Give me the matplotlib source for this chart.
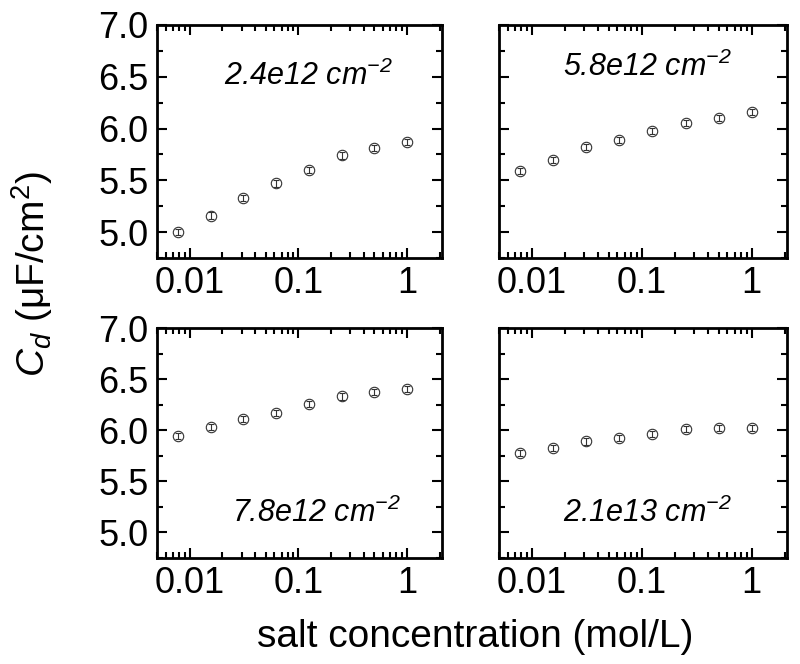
import numpy as np
import matplotlib
matplotlib.use("Agg")
import matplotlib.pyplot as plt
from matplotlib.ticker import FixedLocator, FixedFormatter, LogLocator, MultipleLocator

plt.rcParams['font.family'] = ['Liberation Sans', 'DejaVu Sans']
plt.rcParams['mathtext.fontset'] = 'custom'
plt.rcParams['mathtext.rm'] = 'Liberation Sans'
plt.rcParams['mathtext.it'] = 'Liberation Sans:italic'
plt.rcParams['mathtext.default'] = 'regular'

# salt concentration (mol/L)
conc = [0.0078, 0.0156, 0.03125, 0.0625, 0.125, 0.25, 0.5, 1.0]

# capacitance (uF/cm^2) for each surface charge density
cd_24e12 = [5.00, 5.16, 5.33, 5.47, 5.60, 5.74, 5.81, 5.87]
cd_58e12 = [5.59, 5.70, 5.82, 5.89, 5.98, 6.05, 6.10, 6.16]
cd_78e12 = [5.94, 6.03, 6.11, 6.17, 6.26, 6.33, 6.37, 6.40]
cd_21e13 = [5.78, 5.83, 5.89, 5.92, 5.96, 6.01, 6.02, 6.02]
err = [0.03, 0.03, 0.03, 0.03, 0.03, 0.03, 0.03, 0.03]

labels = ["2.4e12 cm$^{-2}$", "5.8e12 cm$^{-2}$",
          "7.8e12 cm$^{-2}$", "2.1e13 cm$^{-2}$"]
series = [cd_24e12, cd_58e12, cd_78e12, cd_21e13]
label_pos = [(0.53, 0.78), (0.515, 0.82), (0.56, 0.195), (0.517, 0.195)]

yticks = [5.0, 5.5, 6.0, 6.5, 7.0]
yticklabels = ["5.0", "5.5", "6.0", "6.5", "7.0"]
xticks = [0.01, 0.1, 1]
xticklabels = ["0.01", "0.1", "1"]

fig = plt.figure(figsize=(8, 6.64), dpi=100)
W, H = 800, 664
boxes = [(157, 25, 442, 258), (499, 25, 787, 258),
         (157, 328, 442, 558), (499, 328, 787, 558)]

for i, (l, t, r, b) in enumerate(boxes):
    ax = fig.add_axes([l / W, 1 - b / H, (r - l) / W, (b - t) / H])
    ax.errorbar(conc, series[i], yerr=err, fmt='o', ms=7.5, mfc='none',
                mec='#333333', mew=0.8, ecolor='#333333', elinewidth=0.8,
                capsize=2, capthick=0.8)
    ax.set_xscale('log')
    ax.set_xlim(0.005, 2.1)
    ax.set_ylim(4.75, 7.0)
    ax.xaxis.set_major_locator(FixedLocator(xticks))
    ax.xaxis.set_major_formatter(FixedFormatter(xticklabels))
    ax.xaxis.set_minor_locator(LogLocator(base=10, subs=np.arange(2, 10), numticks=20))
    ax.yaxis.set_major_locator(FixedLocator(yticks))
    ax.yaxis.set_minor_locator(MultipleLocator(0.25))
    ax.tick_params(which='both', direction='in', top=True, right=True,
                   labelsize=26, width=1.5, pad=6)
    ax.tick_params(which='major', length=7)
    ax.tick_params(which='minor', length=4)
    for s in ax.spines.values():
        s.set_linewidth(2.0)
    if i % 2 == 0:
        ax.set_yticklabels(yticklabels)
    else:
        ax.set_yticklabels([])
    ax.text(label_pos[i][0], label_pos[i][1], labels[i], transform=ax.transAxes,
            ha='center', va='center', fontsize=22, style='italic')

fig.text(0.04, 0.587, r"$\mathit{C_d}$ ($\mu$F/cm$^{2}$)", rotation=90,
         ha='center', va='center', fontsize=28)
fig.text(475 / W, 0.040, "salt concentration (mol/L)", ha='center',
         va='center', fontsize=28)

fig.savefig("out.png", dpi=100)
